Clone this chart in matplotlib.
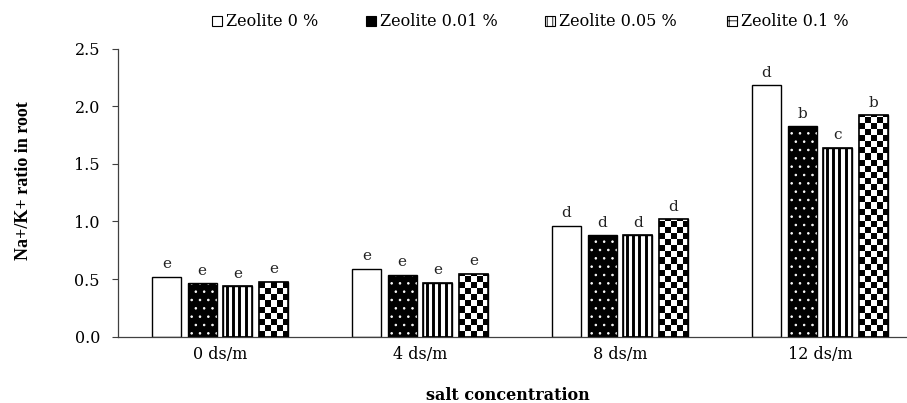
import numpy as np
import matplotlib
matplotlib.use("Agg")
import matplotlib.pyplot as plt
from matplotlib.patches import Patch

categories = ["0 ds/m", "4 ds/m", "8 ds/m", "12 ds/m"]
series_names = ["Zeolite 0 %", "Zeolite 0.01 %", "Zeolite 0.05 %", "Zeolite 0.1 %"]
zeolite_0 = [0.52, 0.59, 0.96, 2.18]
zeolite_001 = [0.465, 0.535, 0.88, 1.825]
zeolite_005 = [0.437, 0.47, 0.88, 1.64]
zeolite_01 = [0.477, 0.545, 1.02, 1.92]
letters_0 = ["e", "e", "d", "d"]
letters_001 = ["e", "e", "d", "b"]
letters_005 = ["e", "e", "d", "c"]
letters_01 = ["e", "e", "d", "b"]

values = [zeolite_0, zeolite_001, zeolite_005, zeolite_01]
letters = [letters_0, letters_001, letters_005, letters_01]

plt.rcParams["font.family"] = ["DejaVu Serif"]
plt.rcParams["hatch.linewidth"] = 0.6

W, H = 907, 403
fig = plt.figure(figsize=(W / 100, H / 100), dpi=100)
ax = fig.add_axes([118 / W, (H - 336.7) / H, 802 / W, 288.2 / H])

x = np.arange(len(categories))
width = 0.145
step = 0.1785
offsets = [-1.5 * step, -0.5 * step, 0.5 * step, 1.5 * step]
XMIN, XMAX, YMIN, YMAX = -0.51, 3.5, 0.0, 2.5
px_x = (XMAX - XMIN) / 802.0
px_y = (YMAX - YMIN) / 288.2

# series 0: white
b0 = ax.bar(x + offsets[0], values[0], width, facecolor="white", edgecolor="black", linewidth=1.0, zorder=2)
# series 1: black with small white dots
b1 = ax.bar(x + offsets[1], values[1], width, facecolor="black", edgecolor="white", hatch="..", linewidth=0, zorder=2)
ax.bar(x + offsets[1], values[1], width, fill=False, edgecolor="black", linewidth=1.0, zorder=4)
# series 2: vertical stripes
b2 = ax.bar(x + offsets[2], values[2], width, facecolor="white", edgecolor="black", linewidth=1.0, zorder=2)
# series 3: checker
b3 = ax.bar(x + offsets[3], values[3], width, facecolor="white", edgecolor="black", linewidth=1.0, zorder=2)
all_bars = [b0, b1, b2, b3]

ax.set_xlim(XMIN, XMAX)
ax.set_ylim(YMIN, YMAX)

# stripes texture
period = 6.4 * px_x
for rect in b2:
    x0, w, h = rect.get_x(), rect.get_width(), rect.get_height()
    xs = np.arange(x0 + period * 0.5, x0 + w - period * 0.3, period)
    lc = ax.vlines(xs, 0, h, colors="black", linewidth=2.1, zorder=3)
    lc.set_clip_path(rect)

# checker texture
cell_x = 6.1 * px_x
cell_y = 6.1 * px_y
for rect in b3:
    x0, y0, w, h = rect.get_x(), rect.get_y(), rect.get_width(), rect.get_height()
    nc = int(np.ceil(w / cell_x))
    nr = int(np.ceil(h / cell_y))
    ii, jj = np.indices((nr, nc))
    arr = ((ii + jj) % 2).astype(float)
    im = ax.imshow(arr, cmap="gray", extent=(x0, x0 + nc * cell_x, y0, y0 + nr * cell_y),
                   origin="lower", interpolation="nearest", aspect="auto", zorder=3)
    im.set_clip_path(rect)
for bars in (b2, b3):
    for rect in bars:
        ax.add_patch(plt.Rectangle((rect.get_x(), rect.get_y()), rect.get_width(), rect.get_height(),
                                   fill=False, edgecolor="black", linewidth=1.2, zorder=4))

ax.set_xlim(XMIN, XMAX)
ax.set_ylim(YMIN, YMAX)
ax.set_aspect("auto")

for bars, labs in zip(all_bars, letters):
    for rect, lab in zip(bars, labs):
        ax.annotate(lab, (rect.get_x() + rect.get_width() / 2, rect.get_height()),
                    xytext=(0, 4), textcoords="offset points", ha="center", va="bottom",
                    fontsize=11, color="#222222")

ax.set_xticks(x)
ax.set_xticklabels(categories, fontsize=11.5)
ax.tick_params(axis="x", length=0, pad=7)
ax.set_yticks([0, 0.5, 1.0, 1.5, 2.0, 2.5])
ax.set_yticklabels(["0.0", "0.5", "1.0", "1.5", "2.0", "2.5"], fontsize=11.5)
ax.tick_params(axis="y", length=4, width=0.8, color="#404040", pad=9)
for s in ["top", "right"]:
    ax.spines[s].set_visible(False)
for s in ["left", "bottom"]:
    ax.spines[s].set_color("#404040")
    ax.spines[s].set_linewidth(0.9)

ax.set_ylabel("Na+/K+ ratio in root", fontsize=13, fontweight="bold",
              family=["Liberation Serif"])
ax.yaxis.set_label_coords((32 - 118) / 802, (336.7 - 181) / 288.2)

fig.text(508 / W, 2.5 / H, "salt concentration", ha="center", va="baseline",
         fontsize=11.5, fontweight="bold")

handles = [
    Patch(facecolor="white", edgecolor="black", linewidth=0.8),
    Patch(facecolor="black", edgecolor="black", linewidth=0.8),
    Patch(facecolor="white", edgecolor="black", hatch="|||", linewidth=0.8),
    Patch(facecolor="white", edgecolor="black", hatch="++", linewidth=0.8),
]
starts = [212, 366, 545, 727]
for hnd, name, sx in zip(handles, series_names, starts):
    fig.legend([hnd], [name], loc="center left", bbox_to_anchor=(sx / W, 1 - 22 / H),
               frameon=False, fontsize=11.5, handlelength=0.65, handleheight=0.65,
               handletextpad=0.25, borderpad=0, borderaxespad=0)

fig.savefig("out.png", dpi=100)
